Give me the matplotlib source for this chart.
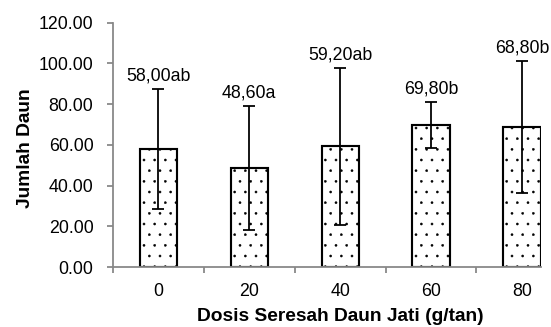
import matplotlib
matplotlib.use("Agg")
import matplotlib.pyplot as plt
import numpy as np

categories = ["0", "20", "40", "60", "80"]
means = [58.00, 48.60, 59.20, 69.80, 68.80]
sds = [29.6, 30.3, 38.6, 11.3, 32.3]
labels = ["58,00ab", "48,60a", "59,20ab", "69,80b", "68,80b"]
yticks = [0, 20, 40, 60, 80, 100, 120]

plt.rcParams['font.family'] = ['Liberation Sans', 'DejaVu Sans']
plt.rcParams['hatch.linewidth'] = 0.5

DPI = 64
fig = plt.figure(figsize=(551 / DPI, 327 / DPI), dpi=DPI)
ax = fig.add_axes([113/551, 1-267/327, (541-113)/551, (267-22.7)/327])

FS = 20
FSL = 21.5
x = np.arange(len(categories))
ax.bar(x, means, width=0.41, color='white', edgecolor='black', linewidth=2.4,
       hatch='.', zorder=2)
ax.errorbar(x, means, yerr=sds, fmt='none', ecolor='black', elinewidth=2.0,
            capsize=7, capthick=2.0, zorder=3)
for xi, m, s, lab in zip(x, means, sds, labels):
    ax.annotate(lab, (xi, m + s), xytext=(0, 5), textcoords='offset points',
                ha='center', va='bottom', fontsize=FS)

ax.set_xlim(-0.5, 4.21)
ax.set_ylim(0, 120)
ax.set_yticks(yticks)
ax.set_yticklabels([f"{v:.2f}" for v in yticks], fontsize=FS)
ax.set_xticks(x)
ax.set_xticklabels(categories, fontsize=FS)
ax.tick_params(axis='x', which='major', length=0, pad=17.5)
ax.set_xticks(np.arange(-0.5, 4.0, 1.0), minor=True)
ax.tick_params(axis='x', which='minor', length=7, width=2.0, color='#878787', direction='out')
ax.tick_params(axis='y', length=7, width=2.0, color='#878787', direction='out', pad=15)

for s in ['top', 'right']:
    ax.spines[s].set_visible(False)
for s in ['left', 'bottom']:
    ax.spines[s].set_color('#878787')
    ax.spines[s].set_linewidth(2.0)

ax.set_xlabel("Dosis Seresah Daun Jati (g/tan)", fontsize=FSL, fontweight='bold')
ax.xaxis.set_label_coords((2.0 + 0.5) / 4.71, -0.166)
ax.set_ylabel("Jumlah Daun", fontsize=FSL, fontweight='bold')
ax.yaxis.set_label_coords(-0.185, 0.485)

fig.savefig("out.png", dpi=DPI)
